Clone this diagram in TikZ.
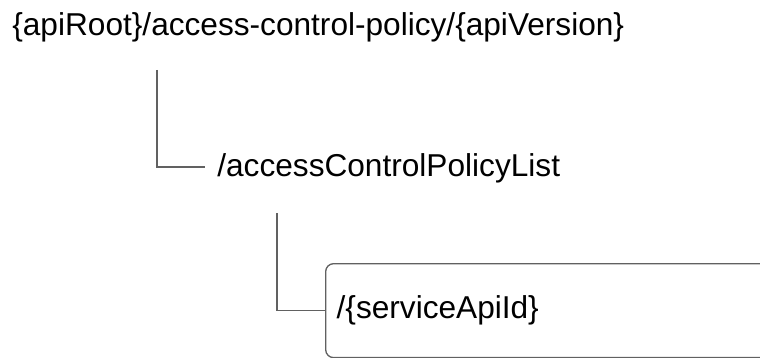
\documentclass[tikz,border=0pt]{standalone}
\usepackage{fontspec}
\setmainfont{Liberation Sans}
\usetikzlibrary{positioning}

\tikzset{
  res/.style={anchor=base west, inner sep=0pt, font=\fontsize{18}{21}\selectfont},
  tree/.style={draw=black!62, line width=0.75pt},
  idbox/.style={draw=black!62, line width=0.75pt, rounded corners=0.16cm, anchor=north west,
    minimum width=12cm, minimum height=1.88cm, inner xsep=0.22cm, text width=11.56cm, align=left,
    font=\fontsize{18}{21}\selectfont}
}

\begin{document}
\begin{tikzpicture}[x=0.02cm, y=-0.02cm]
\useasboundingbox (0,0) rectangle (760,358);
\clip (0,0) rectangle (760,358);

\node[res] (root) at (12,36) {\{apiRoot\}/access-control-policy/\{apiVersion\}};
\node[res] (list) at (217,176) {/accessControlPolicyList};
\node[idbox] (id) at (325,263) {/\{serviceApiId\}};

\coordinate (t1) at (157,70);
\coordinate (e1) at (205,167);
\coordinate (t2) at (277,213);

\draw[tree] (t1) |- (e1);
\draw[tree] (t2) |- (id.west);

\end{tikzpicture}
\end{document}
